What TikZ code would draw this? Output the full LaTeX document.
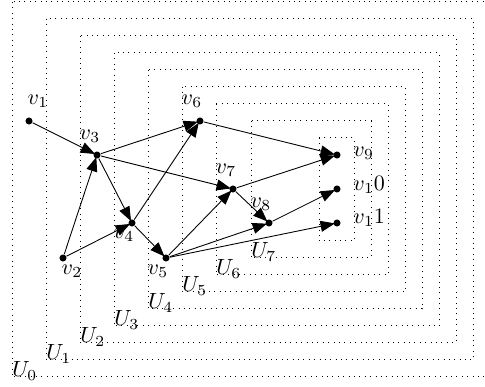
\documentclass[tikz,border=0pt]{standalone}
\usetikzlibrary{arrows.meta}
\begin{document}
\begin{tikzpicture}[x=0.4545pt,y=-0.4545pt,
  vtx/.style={circle,fill,inner sep=0pt,minimum size=3.2pt},
  edge/.style={-{Triangle[length=6.5pt,width=5pt]},line width=0.4pt,shorten >=-0.8pt},
  region/.style={dotted,line width=0.45pt},
  vlab/.style={inner sep=0pt},
  ulab/.style={anchor=base west,inner sep=0pt}]
\useasboundingbox (0,0) rectangle (485,387);
% regions
\draw[region] (12,2) rectangle (490,377);
\draw[region] (46,19) rectangle (473,360);
\draw[region] (80,36) rectangle (456,343);
\draw[region] (114,53) rectangle (439,326);
\draw[region] (148,70) rectangle (422,309);
\draw[region] (182,87) rectangle (405,292);
\draw[region] (216,104) rectangle (388,275);
\draw[region] (251,121) rectangle (371,258);
\draw[region] (319,138) rectangle (354,241);
\node[ulab] (u0) at (12,377) {$U_0$};
\node[ulab] (u1) at (46,360) {$U_1$};
\node[ulab] (u2) at (80,343) {$U_2$};
\node[ulab] (u3) at (114,326) {$U_3$};
\node[ulab] (u4) at (148,309) {$U_4$};
\node[ulab] (u5) at (182,292) {$U_5$};
\node[ulab] (u6) at (216,275) {$U_6$};
\node[ulab] (u7) at (251,258) {$U_7$};
% vertices
\node[vtx] (v1) at (29,121) {};
\node[vtx] (v2) at (63,258) {};
\node[vtx] (v3) at (97,155) {};
\node[vtx] (v4) at (132,223) {};
\node[vtx] (v5) at (166,258) {};
\node[vtx] (v6) at (200,121) {};
\node[vtx] (v7) at (233,189) {};
\node[vtx] (v8) at (269,223) {};
\node[vtx] (v9) at (337,155) {};
\node[vtx] (v10) at (337,189) {};
\node[vtx] (v11) at (337,223) {};
% labels
\node[vlab] (l1) at (38,101) {$v_1$};
\node[vlab] (l2) at (72,271) {$v_2$};
\node[vlab] (l3) at (90,136) {$v_3$};
\node[vlab] (l4) at (124,235) {$v_4$};
\node[vlab] (l5) at (158,271) {$v_5$};
\node[vlab] (l6) at (192,101) {$v_6$};
\node[vlab] (l7) at (226,170) {$v_7$};
\node[vlab] (l8) at (261,204) {$v_8$};
\node[vlab,anchor=west] (l9) at (353,153) {$v_9$};
\node[vlab,anchor=west] (l10) at (353,185) {$v_10$};
\node[vlab,anchor=west] (l11) at (353,218) {$v_11$};
% edges
\draw[edge] (v1) -- (v3);
\draw[edge] (v2) -- (v3);
\draw[edge] (v2) -- (v4);
\draw[edge] (v3) -- (v4);
\draw[edge] (v3) -- (v6);
\draw[edge] (v3) -- (v7);
\draw[edge] (v4) -- (v6);
\draw[edge] (v4) -- (v5);
\draw[edge] (v5) -- (v7);
\draw[edge] (v5) -- (v8);
\draw[edge] (v5) -- (v11);
\draw[edge] (v6) -- (v9);
\draw[edge] (v7) -- (v9);
\draw[edge] (v7) -- (v8);
\draw[edge] (v8) -- (v10);
\end{tikzpicture}
\end{document}
